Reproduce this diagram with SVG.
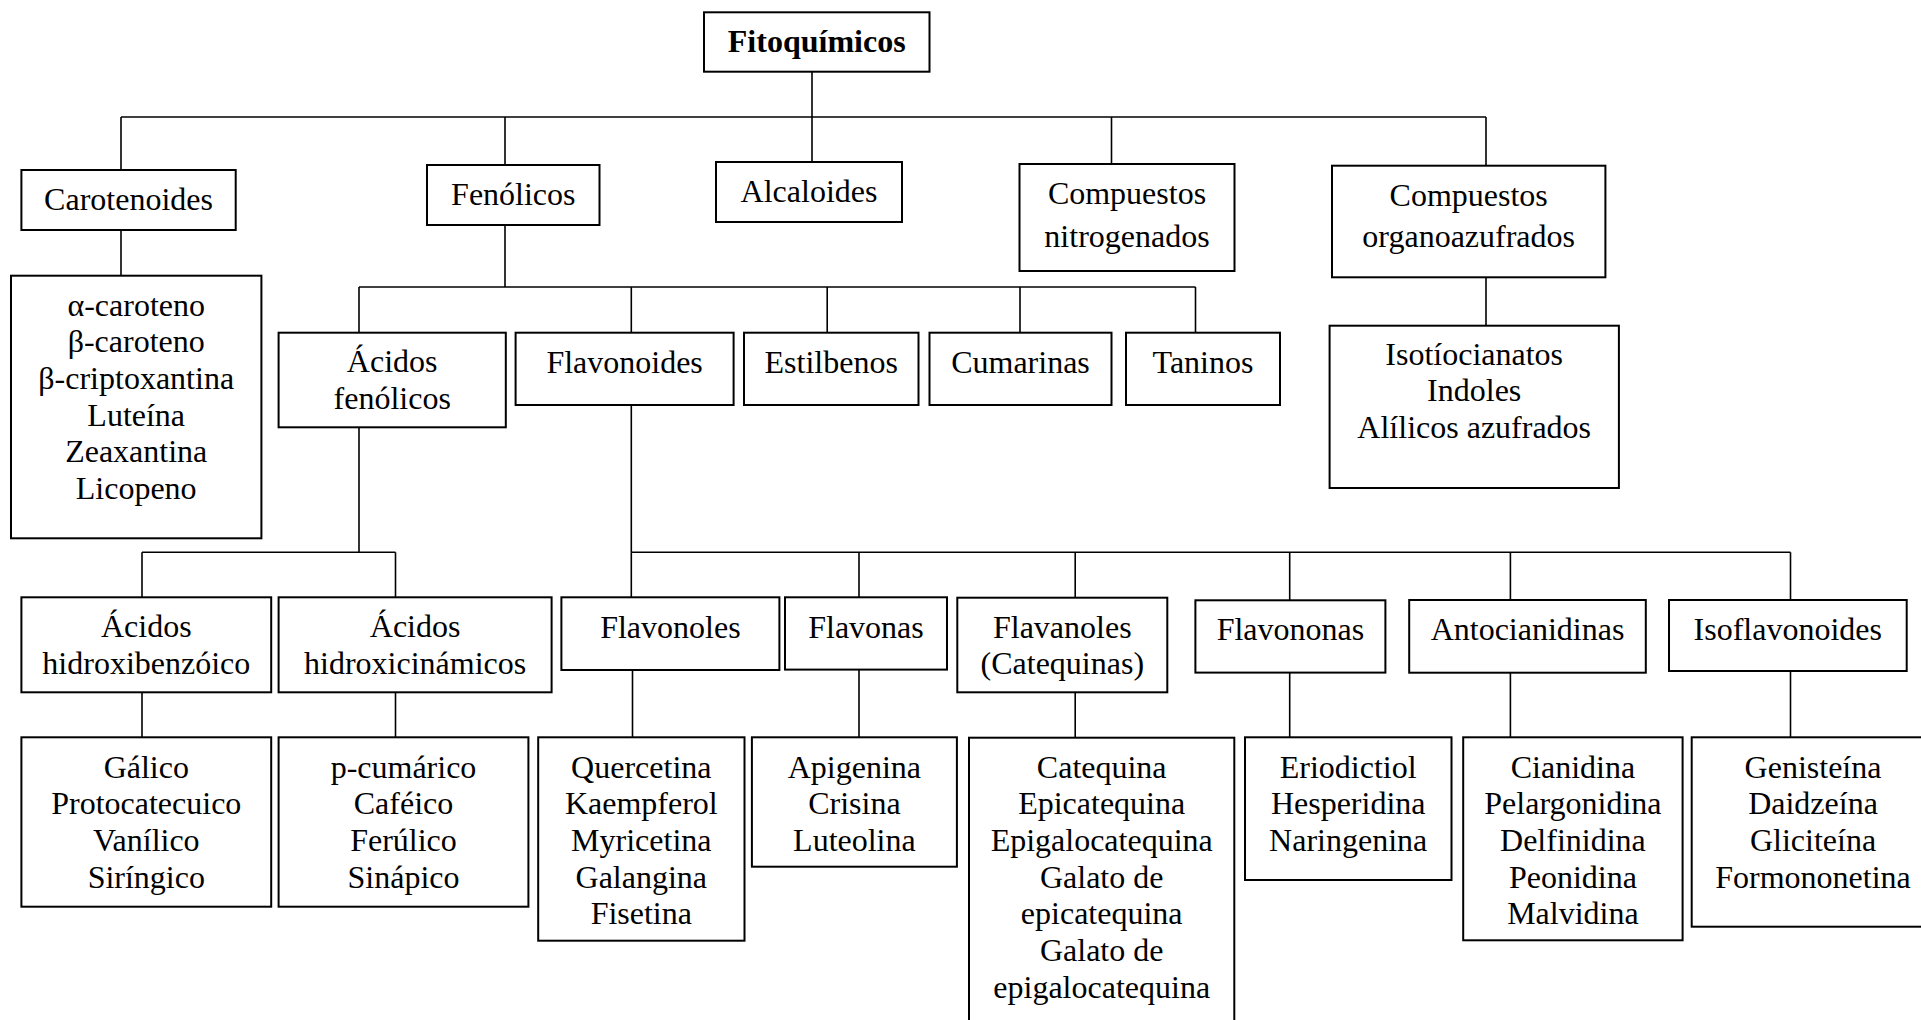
<svg xmlns="http://www.w3.org/2000/svg" width="1921" height="1020" viewBox="0 0 1921 1020">
<style>
.box{fill:#fff;stroke:#000;stroke-width:2}
.conn line{stroke:#000;stroke-width:1.6}
text{font-family:"Liberation Serif","Times New Roman",serif;font-size:32px;text-anchor:middle;fill:#000}
.bold{font-weight:bold}
</style>
<rect x="0" y="0" width="1921" height="1020" fill="#fff"/>
<g id="connectors" class="conn">
<line x1="812" y1="72" x2="812" y2="117"/>
<line x1="121" y1="117" x2="1486" y2="117"/>
<line x1="121" y1="117" x2="121" y2="170"/>
<line x1="505" y1="117" x2="505" y2="165"/>
<line x1="812" y1="117" x2="812" y2="162"/>
<line x1="1111.5" y1="117" x2="1111.5" y2="164"/>
<line x1="1486" y1="117" x2="1486" y2="166"/>
<line x1="121" y1="230" x2="121" y2="276"/>
<line x1="505" y1="225" x2="505" y2="287"/>
<line x1="359" y1="287" x2="1195.5" y2="287"/>
<line x1="359" y1="287" x2="359" y2="333"/>
<line x1="631.3" y1="287" x2="631.3" y2="333"/>
<line x1="827.2" y1="287" x2="827.2" y2="333"/>
<line x1="1020" y1="287" x2="1020" y2="333"/>
<line x1="1195.5" y1="287" x2="1195.5" y2="333"/>
<line x1="1486" y1="277" x2="1486" y2="326"/>
<line x1="359" y1="427" x2="359" y2="552.3"/>
<line x1="142" y1="552.3" x2="395.5" y2="552.3"/>
<line x1="142" y1="552.3" x2="142" y2="597.3"/>
<line x1="395.5" y1="552.3" x2="395.5" y2="597.3"/>
<line x1="631.3" y1="405" x2="631.3" y2="552.3"/>
<line x1="631.3" y1="552.3" x2="1790.5" y2="552.3"/>
<line x1="631.3" y1="552.3" x2="631.3" y2="597.3"/>
<line x1="859" y1="552.3" x2="859" y2="597.3"/>
<line x1="1075.2" y1="552.3" x2="1075.2" y2="597.7"/>
<line x1="1289.7" y1="552.3" x2="1289.7" y2="600.3"/>
<line x1="1510.4" y1="552.3" x2="1510.4" y2="600"/>
<line x1="1790.5" y1="552.3" x2="1790.5" y2="600"/>
<line x1="142" y1="692.3" x2="142" y2="737.3"/>
<line x1="395.5" y1="692.3" x2="395.5" y2="737.3"/>
<line x1="632.5" y1="670" x2="632.5" y2="737.3"/>
<line x1="859" y1="669.6" x2="859" y2="737.3"/>
<line x1="1075.2" y1="692.3" x2="1075.2" y2="737.7"/>
<line x1="1289.7" y1="672.6" x2="1289.7" y2="737.3"/>
<line x1="1510.4" y1="672.7" x2="1510.4" y2="737.3"/>
<line x1="1790.5" y1="671" x2="1790.5" y2="737.3"/>
</g>
<g id="n-fitoquimicos"><rect class="box" x="704" y="12.3" width="225.5" height="59.4"/><text class="bold" x="816.7" y="52">Fitoquímicos</text></g>
<g id="n-carotenoides"><rect class="box" x="21.4" y="170" width="214.3" height="60"/><text x="128.5" y="210">Carotenoides</text></g>
<g id="n-fenolicos"><rect class="box" x="427" y="165" width="172.5" height="60"/><text x="513.3" y="204.5">Fenólicos</text></g>
<g id="n-alcaloides"><rect class="box" x="716" y="162" width="186" height="60"/><text x="809" y="201.8">Alcaloides</text></g>
<g id="n-nitrogenados"><rect class="box" x="1019.5" y="164" width="215" height="107"/><text x="1127" y="204.3">Compuestos</text><text x="1127" y="247">nitrogenados</text></g>
<g id="n-organoazufrados"><rect class="box" x="1332" y="165.7" width="273.4" height="111.6"/><text x="1468.7" y="205.5">Compuestos</text><text x="1468.7" y="247">organoazufrados</text></g>
<g id="n-carotenos"><rect class="box" x="11" y="275.7" width="250.4" height="262.6"/>
<text x="136.2" y="315.5">α-caroteno</text><text x="136.2" y="352.2">β-caroteno</text><text x="136.2" y="388.9">β-criptoxantina</text><text x="136.2" y="425.6">Luteína</text><text x="136.2" y="462.3">Zeaxantina</text><text x="136.2" y="499">Licopeno</text></g>
<g id="n-acidos-fenolicos"><rect class="box" x="278.6" y="332.7" width="227.2" height="94.6"/><text x="392.2" y="372">Ácidos</text><text x="392.2" y="408.5">fenólicos</text></g>
<g id="n-flavonoides"><rect class="box" x="515.6" y="332.7" width="218" height="72.3"/><text x="624.6" y="373">Flavonoides</text></g>
<g id="n-estilbenos"><rect class="box" x="744" y="332.7" width="174.5" height="72.3"/><text x="831.2" y="373">Estilbenos</text></g>
<g id="n-cumarinas"><rect class="box" x="929.5" y="332.7" width="182" height="72.3"/><text x="1020.5" y="373">Cumarinas</text></g>
<g id="n-taninos"><rect class="box" x="1126" y="332.7" width="154" height="72.3"/><text x="1203" y="373">Taninos</text></g>
<g id="n-azufrados"><rect class="box" x="1329.6" y="325.7" width="289.3" height="162.3"/><text x="1474.2" y="364.5">Isotíocianatos</text><text x="1474.2" y="401.2">Indoles</text><text x="1474.2" y="437.9">Alílicos azufrados</text></g>
<g id="n-hidroxibenzoico"><rect class="box" x="21.4" y="597.3" width="249.8" height="95"/><text x="146.3" y="637.3">Ácidos</text><text x="146.3" y="673.6">hidroxibenzóico</text></g>
<g id="n-hidroxicinamicos"><rect class="box" x="278.6" y="597.3" width="273" height="95"/><text x="415.1" y="637.3">Ácidos</text><text x="415.1" y="673.6">hidroxicinámicos</text></g>
<g id="n-flavonoles"><rect class="box" x="561.4" y="597.3" width="218" height="72.7"/><text x="670.4" y="638">Flavonoles</text></g>
<g id="n-flavonas"><rect class="box" x="785" y="597.3" width="162" height="72.3"/><text x="866" y="638">Flavonas</text></g>
<g id="n-flavanoles"><rect class="box" x="957.3" y="597.7" width="210" height="94.6"/><text x="1062.3" y="638">Flavanoles</text><text x="1062.3" y="674.3">(Catequinas)</text></g>
<g id="n-flavononas"><rect class="box" x="1195.4" y="600.3" width="190" height="72.3"/><text x="1290.4" y="640">Flavononas</text></g>
<g id="n-antocianidinas"><rect class="box" x="1409.2" y="600" width="236.6" height="72.7"/><text x="1527.5" y="640">Antocianidinas</text></g>
<g id="n-isoflavonoides"><rect class="box" x="1669" y="600" width="237.7" height="71"/><text x="1787.8" y="640">Isoflavonoides</text></g>
<g id="n-galico"><rect class="box" x="21.4" y="737.3" width="249.8" height="169.4"/><text x="146.3" y="777.5">Gálico</text><text x="146.3" y="814.2">Protocatecuico</text><text x="146.3" y="850.9">Vanílico</text><text x="146.3" y="887.6">Siríngico</text></g>
<g id="n-cumarico"><rect class="box" x="278.6" y="737.3" width="249.8" height="169.4"/><text x="403.5" y="777.5">p-cumárico</text><text x="403.5" y="814.2">Caféico</text><text x="403.5" y="850.9">Ferúlico</text><text x="403.5" y="887.6">Sinápico</text></g>
<g id="n-quercetina"><rect class="box" x="538.2" y="737.3" width="206.3" height="203.4"/><text x="641.3" y="777.5">Quercetina</text><text x="641.3" y="814.2">Kaempferol</text><text x="641.3" y="850.9">Myricetina</text><text x="641.3" y="887.6">Galangina</text><text x="641.3" y="924.3">Fisetina</text></g>
<g id="n-apigenina"><rect class="box" x="751.9" y="737.3" width="205" height="129.4"/><text x="854.4" y="777.5">Apigenina</text><text x="854.4" y="814.2">Crisina</text><text x="854.4" y="850.9">Luteolina</text></g>
<g id="n-catequina"><rect class="box" x="969" y="737.7" width="265.3" height="300"/><text x="1101.7" y="777.7">Catequina</text><text x="1101.7" y="814.3">Epicatequina</text><text x="1101.7" y="851">Epigalocatequina</text><text x="1101.7" y="887.7">Galato de</text><text x="1101.7" y="924.3">epicatequina</text><text x="1101.7" y="961">Galato de</text><text x="1101.7" y="997.6">epigalocatequina</text></g>
<g id="n-eriodictiol"><rect class="box" x="1245" y="737.3" width="206.5" height="142.7"/><text x="1348.2" y="777.5">Eriodictiol</text><text x="1348.2" y="814.2">Hesperidina</text><text x="1348.2" y="850.9">Naringenina</text></g>
<g id="n-cianidina"><rect class="box" x="1463.2" y="737.3" width="219.4" height="203"/><text x="1572.9" y="777.5">Cianidina</text><text x="1572.9" y="814.2">Pelargonidina</text><text x="1572.9" y="850.9">Delfinidina</text><text x="1572.9" y="887.6">Peonidina</text><text x="1572.9" y="924.3">Malvidina</text></g>
<g id="n-genisteina"><rect class="box" x="1691.7" y="737.3" width="245" height="189.4"/><text x="1813" y="777.5">Genisteína</text><text x="1813" y="814.2">Daidzeína</text><text x="1813" y="850.9">Gliciteína</text><text x="1813" y="887.6">Formononetina</text></g>
</svg>
